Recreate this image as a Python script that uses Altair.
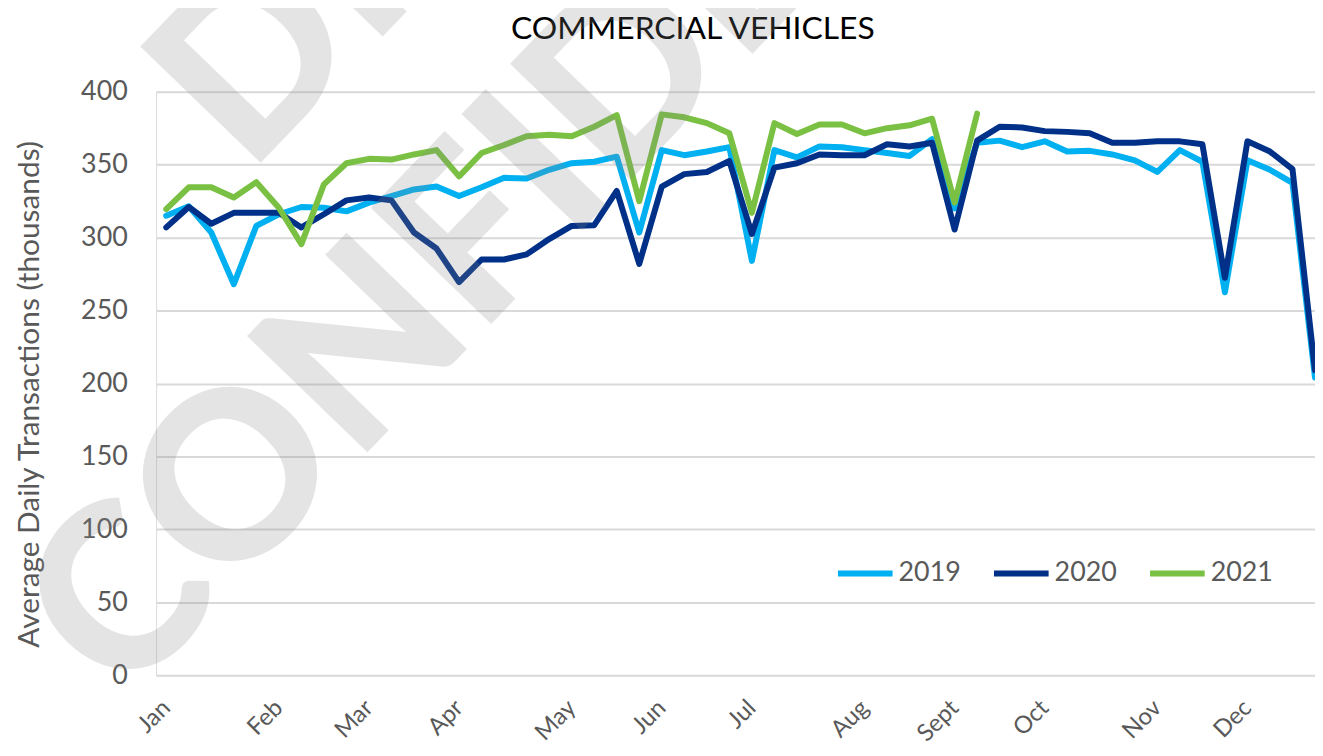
import altair as alt
import pandas as pd

TITLE = "COMMERCIAL VEHICLES"
Y_TITLE = "Average Daily Transactions (thousands)"
YEARS = ["2019", "2020", "2021"]
COLORS = ["#00B0F0", "#003087", "#7AC143"]

V2019 = [315, 321.5, 303.5, 268, 308, 316, 321, 320.5, 318, 324, 328.5, 333, 335,
         328.5, 334.5, 341, 340.5, 346.5, 351, 352, 355.5, 303.5, 360, 356.5, 359,
         362, 284, 360, 355, 362.5, 362, 360, 358, 356, 367.5, 320, 365, 366.5, 362,
         366, 359, 359.5, 357, 353, 345, 360, 352, 262.5, 353, 346.5, 337.5, 204]
V2020 = [307, 321, 309.5, 317, 317, 317, 307, 316, 325.5, 327.5, 325.5, 303.5, 292.5,
         269.5, 285, 285, 288.5, 299, 308, 308.5, 332, 282, 335, 343.5, 345, 352.5,
         302.5, 348, 351, 357, 356.5, 356.5, 364, 362.5, 365, 305.5, 366.5, 376, 375.5,
         373, 372.5, 371.5, 365, 365, 366, 366, 364, 272.5, 366, 359, 347, 209]
V2021 = [319.5, 334.5, 334.5, 327.5, 338, 320.5, 295.5, 336.5, 351, 354, 353.5, 357,
         360, 342, 358, 363.5, 369.5, 370.5, 369.5, 376, 384, 325, 384.5, 382.5, 378.5,
         371.5, 317, 378.5, 371, 377.5, 377.5, 371.5, 375, 377, 381.5, 324, 385]

MONTHS = ["Jan", "Feb", "Mar", "Apr", "May", "Jun", "Jul", "Aug", "Sept", "Oct", "Nov", "Dec"]
MONTH_WEEKS = [0, 5, 9, 13, 18, 22, 26, 31, 35, 39, 44, 48]
Y_TICKS = [0, 50, 100, 150, 200, 250, 300, 350, 400]

rows = []
for yr, vals in zip(YEARS, [V2019, V2020, V2021]):
    for w, v in enumerate(vals):
        rows.append({"week": w, "value": v, "year": yr})
df = pd.DataFrame(rows)

label_expr = "%s[indexof(%s, datum.value)]" % (repr(MONTHS), repr(MONTH_WEEKS))

FONT = "Lato"
GRAY = "#595959"

lines = alt.Chart(df).mark_line(strokeWidth=6, strokeJoin="round", strokeCap="round").encode(
    x=alt.X("week:Q",
            scale=alt.Scale(domain=[-0.45, 51], nice=False, zero=False),
            axis=alt.Axis(values=MONTH_WEEKS, labelExpr=label_expr, title=None,
                          labelAngle=315, labelAlign="right", labelBaseline="middle",
                          labelFont=FONT, labelFontSize=24, labelColor=GRAY,
                          labelPadding=29, labelOverlap=False, labelBound=False,
                          labelFlush=False, ticks=False, domain=False, grid=False)),
    y=alt.Y("value:Q",
            scale=alt.Scale(domain=[0, 400], nice=False, zero=True),
            axis=alt.Axis(values=Y_TICKS, title=Y_TITLE,
                          titleFont=FONT, titleFontSize=30, titleFontWeight="normal",
                          titleColor=GRAY, titleAngle=270, titleX=-127, titleY=304,
                          titleAlign="center", titleBaseline="middle",
                          labelFont=FONT, labelFontSize=27, labelColor=GRAY,
                          labelPadding=29, ticks=False, domain=False, grid=True,
                          gridColor="#d9d9d9", gridWidth=2)),
    color=alt.Color("year:N",
                    scale=alt.Scale(domain=YEARS, range=COLORS),
                    legend=alt.Legend(title=None, orient="none", legendX=683, legendY=454,
                                      direction="horizontal", symbolType="stroke",
                                      symbolSize=3025, symbolStrokeWidth=6,
                                      labelFont=FONT, labelFontSize=27, labelColor=GRAY,
                                      labelOffset=3, columnPadding=21, padding=0)),
)

title = alt.Chart(pd.DataFrame({"t": [TITLE]})).mark_text(
    font=FONT, fontSize=32, fontWeight="normal", color="black",
    align="center", baseline="alphabetic"
).encode(text="t:N", x=alt.value(540), y=alt.value(-53))

wm_draft = alt.Chart(pd.DataFrame({"t": ["DRAFT"]})).mark_text(
    font="Lato", fontWeight=900, fontSize=232, angle=314, align="left",
    baseline="alphabetic", fill="#888888", opacity=0.22
).encode(text="t:N", x=alt.value(93), y=alt.value(84))

wm_conf = alt.Chart(pd.DataFrame({"t": ["CONFIDENTIAL"]})).mark_text(
    font="Lato", fontWeight=900, fontSize=232, angle=314, align="left",
    baseline="alphabetic", fill="#888888", opacity=0.22
).encode(text="t:N", x=alt.value(-34), y=alt.value(618))

chart = alt.layer(lines, title, wm_draft, wm_conf).properties(
    width=1166, height=587,
    autosize=alt.AutoSizeParams(type="none"),
    padding={"left": 149, "top": 82, "right": 0, "bottom": 69},
).configure_view(strokeWidth=0).configure(background="white")

chart.save("out.html", embed_options={"renderer": "svg", "actions": False})
